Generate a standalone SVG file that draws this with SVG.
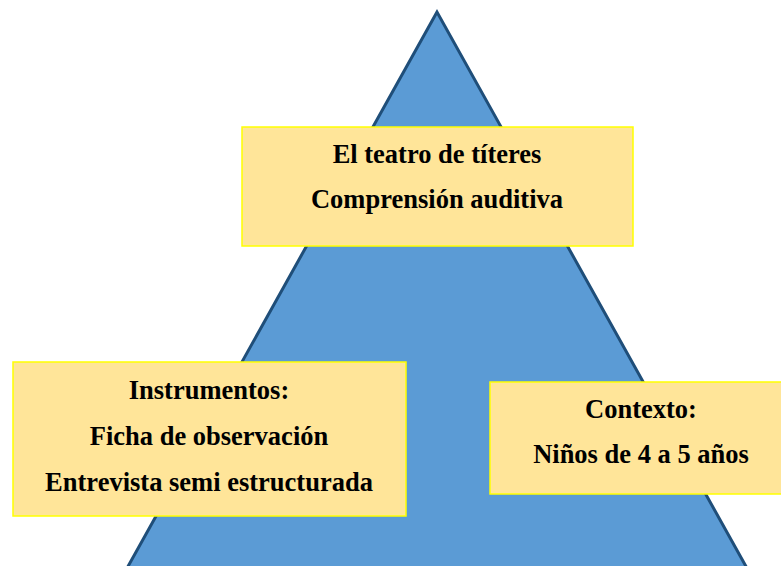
<svg xmlns="http://www.w3.org/2000/svg" width="781" height="566" viewBox="0 0 781 566">
<style>
.box{fill:#ffe599;stroke:#ffff00;stroke-width:1.5}
.t{font-family:"Liberation Serif","Times New Roman",serif;font-weight:bold;font-size:26.5px;fill:#000;text-anchor:middle}
</style>
<rect width="781" height="566" fill="#fff"/>
<g id="pyramid">
<polygon points="437,12 126,570 748,570" fill="#5b9bd5" stroke="#1f4e79" stroke-width="3" stroke-linejoin="miter"/>
</g>
<g id="connectors"></g>
<g id="top">
<rect class="box" x="242" y="127" width="391" height="119"/>
<text class="t" x="437" y="163">El teatro de títeres</text>
<text class="t" x="437" y="208">Comprensión auditiva</text>
</g>
<g id="left">
<rect class="box" x="13" y="362" width="393" height="154"/>
<text class="t" x="209" y="399">Instrumentos:</text>
<text class="t" x="209" y="445">Ficha de observación</text>
<text class="t" x="209" y="491">Entrevista semi estructurada</text>
</g>
<g id="right">
<rect class="box" x="490" y="382" width="293" height="112"/>
<text class="t" x="641" y="418">Contexto:</text>
<text class="t" x="641" y="463">Niños de 4 a 5 años</text>
</g>
</svg>
